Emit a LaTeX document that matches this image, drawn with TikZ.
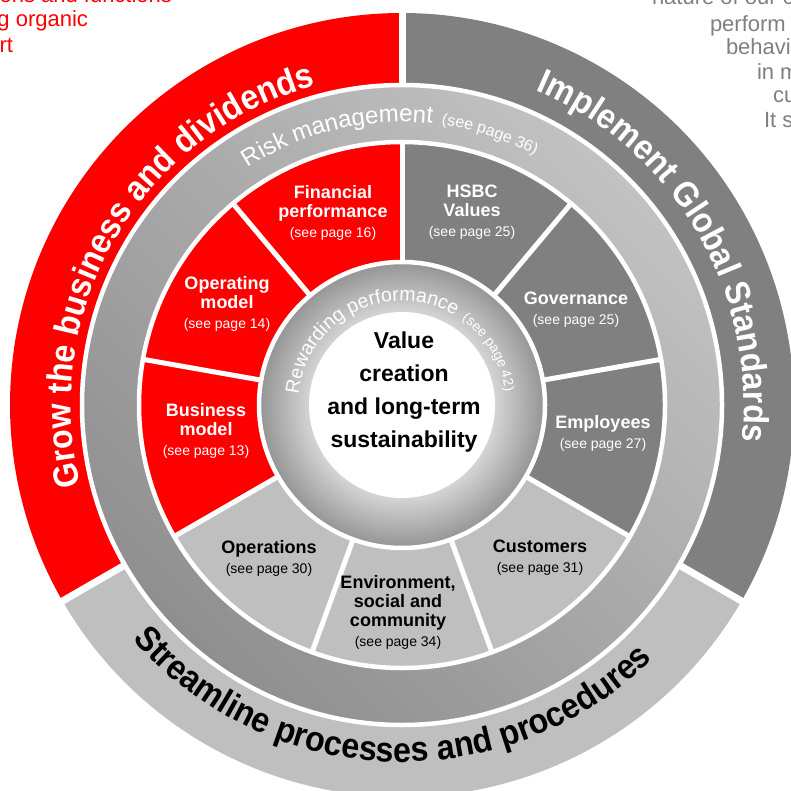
\documentclass[tikz,border=0pt]{standalone}
\usepackage{fontspec}
\setmainfont{Liberation Sans}
\newfontfamily\ringfamily[FakeStretch=0.92]{Liberation Sans}
\usetikzlibrary{decorations.text}
\definecolor{rewardLight}{gray}{0.84}
\definecolor{rewardDark}{gray}{0.58}
\pgfdeclareradialshading{rewardShade}{\pgfpointorigin}{color(0bp)=(rewardLight); color(16bp)=(rewardLight); color(25bp)=(rewardDark); color(50bp)=(rewardDark)}
\newcommand{\ringfont}{\ringfamily\fontsize{35}{35}\selectfont\bfseries}
\newcommand{\riskfont}{\fontsize{24}{24}\selectfont}
\newcommand{\rewardfont}{\fontsize{19.5}{19.5}\selectfont}
\newcommand{\seefont}{\fontsize{14}{16}\selectfont\mdseries}

\begin{document}
\begin{tikzpicture}[x=1pt,y=1pt,
  segtitle/.style={align=center,inner sep=0pt,outer sep=0pt,font=\fontsize{18}{19}\selectfont\bfseries},
  valuetext/.style={align=center,inner sep=0pt,outer sep=0pt,font=\fontsize{23}{33}\selectfont\bfseries},
  sidetext/.style={inner sep=0pt,outer sep=0pt,font=\fontsize{22}{24}\selectfont}]
\definecolor{fillColor}{RGB}{255,255,255}
\path[use as bounding box,fill=fillColor] (0,0) rectangle (791,790);

% text running off the page
\definecolor{drawColor}{RGB}{255,0,0}
\node[sidetext,text=drawColor,anchor=base east] (redLineA) at (172,787) {ons and functions};
\node[sidetext,text=drawColor,anchor=base east] (redLineB) at (88,763) {g organic};
\node[sidetext,text=drawColor,anchor=base east] (redLineC) at (13,737) {rt};
\definecolor{drawColor}{gray}{0.50}
\node[sidetext,text=drawColor,anchor=base west] (grayLineA) at (652,785) {nature of our c};
\node[sidetext,text=drawColor,anchor=base west] (grayLineB) at (710,758) {perform};
\node[sidetext,text=drawColor,anchor=base west] (grayLineC) at (726,735) {behavi};
\node[sidetext,text=drawColor,anchor=base west] (grayLineD) at (757,710) {in m};
\node[sidetext,text=drawColor,anchor=base west] (grayLineE) at (773,687) {cu};
\node[sidetext,text=drawColor,anchor=base west] (grayLineF) at (764,662) {It s};

\begin{scope}[shift={(402,385)}]
% outer ring
\definecolor{fillColor}{RGB}{255,0,0}
\path[fill=fillColor] (90:392) arc[start angle=90,end angle=210,radius=392] -- (210:320) arc[start angle=210,end angle=90,radius=320] -- cycle;
\definecolor{fillColor}{gray}{0.50}
\path[fill=fillColor] (-30:392) arc[start angle=-30,end angle=90,radius=392] -- (90:320) arc[start angle=90,end angle=-30,radius=320] -- cycle;
\definecolor{fillColor}{gray}{0.75}
\path[fill=fillColor] (210:392) arc[start angle=210,end angle=330,radius=392] -- (330:320) arc[start angle=330,end angle=210,radius=320] -- cycle;

% risk ring
\definecolor{riskLight}{gray}{0.76}
\definecolor{riskDark}{gray}{0.56}
\shade[even odd rule,top color=riskLight,bottom color=riskDark,shading angle=-45] (0,0) circle[radius=320] (0,0) circle[radius=263];

% nine segments
\definecolor{fillColor}{RGB}{255,0,0}
\path[fill=fillColor] (90:263) arc[start angle=90,end angle=130,radius=263] -- (130:143) arc[start angle=130,end angle=90,radius=143] -- cycle;
\path[fill=fillColor] (130:263) arc[start angle=130,end angle=170,radius=263] -- (170:143) arc[start angle=170,end angle=130,radius=143] -- cycle;
\path[fill=fillColor] (170:263) arc[start angle=170,end angle=210,radius=263] -- (210:143) arc[start angle=210,end angle=170,radius=143] -- cycle;
\definecolor{fillColor}{gray}{0.50}
\path[fill=fillColor] (50:263) arc[start angle=50,end angle=90,radius=263] -- (90:143) arc[start angle=90,end angle=50,radius=143] -- cycle;
\path[fill=fillColor] (10:263) arc[start angle=10,end angle=50,radius=263] -- (50:143) arc[start angle=50,end angle=10,radius=143] -- cycle;
\path[fill=fillColor] (-30:263) arc[start angle=-30,end angle=10,radius=263] -- (10:143) arc[start angle=10,end angle=-30,radius=143] -- cycle;
\definecolor{fillColor}{gray}{0.75}
\path[fill=fillColor] (210:263) arc[start angle=210,end angle=250,radius=263] -- (250:143) arc[start angle=250,end angle=210,radius=143] -- cycle;
\path[fill=fillColor] (250:263) arc[start angle=250,end angle=290,radius=263] -- (290:143) arc[start angle=290,end angle=250,radius=143] -- cycle;
\path[fill=fillColor] (290:263) arc[start angle=290,end angle=330,radius=263] -- (330:143) arc[start angle=330,end angle=290,radius=143] -- cycle;

% rewarding ring and centre
\shade[shading=rewardShade] (0,0) circle[radius=143];
\path[fill=white] (0,0) circle[radius=93];

% white gaps
\path[draw=white,line width=4.5] (0,0) circle[radius=320];
\path[draw=white,line width=4.5] (0,0) circle[radius=263];
\path[draw=white,line width=4.5] (0,0) circle[radius=143];
\path[draw=white,line width=7] (90:318) -- (90:400);
\path[draw=white,line width=7] (210:318) -- (210:400);
\path[draw=white,line width=7] (330:318) -- (330:400);
\path[draw=white,line width=5] (10:141) -- (10:265);
\path[draw=white,line width=5] (50:141) -- (50:265);
\path[draw=white,line width=5] (90:141) -- (90:265);
\path[draw=white,line width=5] (130:141) -- (130:265);
\path[draw=white,line width=5] (170:141) -- (170:265);
\path[draw=white,line width=5] (210:141) -- (210:265);
\path[draw=white,line width=5] (250:141) -- (250:265);
\path[draw=white,line width=5] (290:141) -- (290:265);
\path[draw=white,line width=5] (330:141) -- (330:265);

% curved labels
\path[decorate,decoration={text along path,text align=left,text color=white,
  text={|\ringfont|Grow the business and dividends}}]
  (194:331) arc[start angle=194,end angle=70,radius=331];
\path[decorate,decoration={text along path,text align=left,text color=white,
  text={|\ringfont|Implement Global Standards}}]
  (67:342) arc[start angle=67,end angle=-40,radius=342];
\path[decorate,decoration={text along path,text align=left,text color=black,
  text={|\ringfont|Streamline processes and procedures}}]
  (221:357) arc[start angle=221,end angle=335,radius=357];
\path[decorate,decoration={text along path,text align=left,text color=white,
  text={|\riskfont|Risk management{\hspace*{9pt}}|\seefont\fontsize{16}{16}\selectfont|(see page 36)}}]
  (123:283) arc[start angle=123,end angle=30,radius=283];
\path[decorate,decoration={text along path,text align=left,text color=white,
  text={|\rewardfont|Rewarding performance{\hspace*{8pt}}|\seefont|(see page 42)}}]
  (174:104) arc[start angle=174,end angle=-10,radius=104];
\end{scope}

% segment labels
\node[segtitle,text=white] (finPerf) at (333,577) {Financial\\performance\\[1pt]{\seefont (see page 16)}};
\node[segtitle,text=white] (hsbcValues) at (472,578) {HSBC\\Values\\[1pt]{\seefont (see page 25)}};
\node[segtitle,text=white] (opModel) at (227,486) {Operating\\model\\[1pt]{\seefont (see page 14)}};
\node[segtitle,text=white] (governance) at (576,480) {Governance\\[1pt]{\seefont (see page 25)}};
\node[segtitle,text=white] (busModel) at (206,359) {Business\\model\\[1pt]{\seefont (see page 13)}};
\node[segtitle,text=white] (employees) at (603,357) {Employees\\[1pt]{\seefont (see page 27)}};
\node[segtitle,text=black] (operations) at (269,232) {Operations\\[1pt]{\seefont (see page 30)}};
\node[segtitle,text=black] (environment) at (398,178) {Environment,\\social and\\community\\[1pt]{\seefont (see page 34)}};
\node[segtitle,text=black] (customers) at (540,232) {Customers\\[1pt]{\seefont (see page 31)}};
\node[valuetext,text=black] (valueCreation) at (404,398) {Value\\creation\\and long-term\\sustainability};
\end{tikzpicture}
\end{document}
